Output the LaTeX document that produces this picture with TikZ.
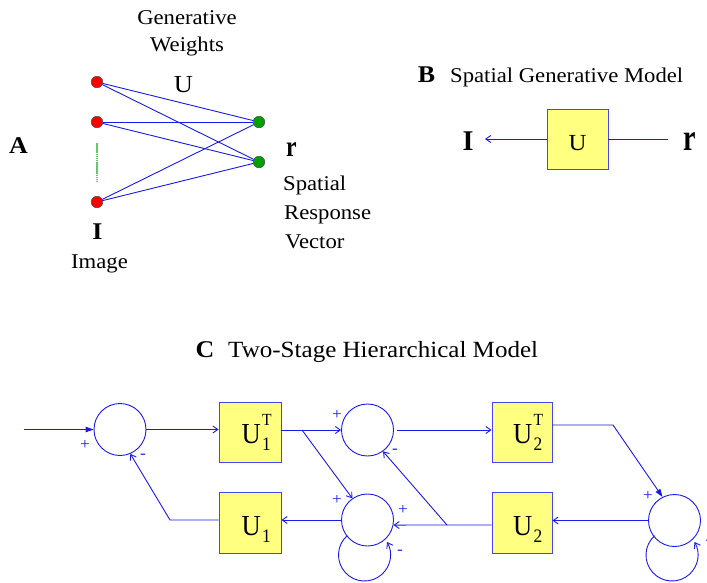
\documentclass[tikz,border=0pt]{standalone}
\usepackage{fontspec}
\setmainfont{Liberation Serif}[FakeStretch=1.08]
\usepackage{graphicx}
\usetikzlibrary{arrows.meta}
\definecolor{wire}{RGB}{25,25,235}
\definecolor{boxfill}{RGB}{255,255,128}
\definecolor{boxedge}{RGB}{70,70,245}
\definecolor{dotred}{RGB}{250,0,0}
\definecolor{dotgreen}{RGB}{0,160,0}
\definecolor{gapgreen}{RGB}{110,195,110}
\newcommand\fsz[1]{\fontsize{#1}{#1}\selectfont}
% weight matrix label: U with subscript #1 and optional superscript #2
\newcommand\wlab[2]{\scalebox{0.85}[1]{\fsz{29}U\kern1.5pt\rlap{\raisebox{18pt}{\fsz{17}#2}}\raisebox{-7pt}{\fsz{19}#1}}}

\begin{document}
\begin{tikzpicture}[x=1pt,y=1pt,
  wire/.style={draw=wire, line width=0.9pt},
  opentip/.style={-{Straight Barb[length=5pt,width=7pt]}},
  filltip/.style={-{Triangle[length=8pt,width=5.5pt]}},
  unit/.style={circle, draw=black!70, line width=0.5pt, minimum size=11.5pt, inner sep=0pt},
  inunit/.style={unit, fill=dotred},
  outunit/.style={unit, fill=dotgreen},
  weightbox/.style={draw=boxedge, fill=boxfill, line width=0.9pt, inner sep=0pt,
                    minimum width=61pt, minimum height=60pt},
  sumnode/.style={circle, draw=wire, line width=0.9pt, minimum size=52pt, inner sep=0pt},
  txt/.style={font=\fsz{21}, inner sep=0pt},
  panel/.style={font=\fsz{24}\bfseries, inner sep=0pt},
  sign/.style={font=\fsz{16}, text=wire, inner sep=0pt},
  boxlab/.style={inner sep=0pt, anchor=base west},
]
\clip (0,0) rectangle (707,-582);
\useasboundingbox (0,0) rectangle (707,-582);

% ---------------- A: generative weights between image and response units
\node[panel, anchor=base] (labA) at (18.5,-153) {A};
\node[txt, anchor=base] (gen) at (187,-24) {Generative};
\node[txt, anchor=base] (wts) at (187,-51) {Weights};
\node[anchor=base, inner sep=0pt, font=\fsz{24.5}] (uA) at (183.5,-92) {U};

\node[inunit] (i1) at (97,-82) {};
\node[inunit] (i2) at (97,-122) {};
\node[inunit] (i3) at (97,-202) {};
\node[outunit] (o1) at (259,-122) {};
\node[outunit] (o2) at (259,-162) {};

\coordinate (gapT) at (97,-143);
\coordinate (gapB) at (97,-181);
\draw[gapgreen, line width=1.5pt, dash pattern=on 1.6pt off 0.5pt] (gapT) -- (gapB);

\foreach \a in {i1,i2,i3}
  \foreach \b in {o1,o2}
    \draw[wire] (\a) -- (\b);

\node[anchor=base, inner sep=0pt, font=\fsz{24}\bfseries] (IA) at (97.5,-239) {I};
\node[txt, anchor=base] (img) at (99.5,-268) {Image};
\node[anchor=base, inner sep=0pt, font=\fsz{22}\bfseries] (rA) at (291.5,-156) {\scalebox{1}[1.33]{r}};
\node[txt, anchor=base west] (sp) at (283,-190) {Spatial};
\node[txt, anchor=base west] (rs) at (284,-219) {Response};
\node[txt, anchor=base west] (vc) at (285,-248) {Vector};

% ---------------- B: spatial generative model
\node[panel, anchor=base] (labB) at (426.5,-82) {B};
\node[txt, anchor=base west] (titB) at (450,-82) {Spatial Generative Model};
\node[weightbox] (wB) at (577.5,-139) {};
\node[anchor=base, inner sep=0pt, font=\fsz{23}] (uB) at (577.5,-150) {U};
\node[anchor=base, inner sep=0pt, font=\fsz{26}\bfseries] (IB) at (468,-150) {\scalebox{1}[1.1]{I}};
\node[anchor=base, inner sep=0pt, font=\fsz{26}\bfseries] (rB) at (689.5,-150) {\scalebox{1}[1.45]{r}};
\coordinate (imgEnd) at (485,-139);
\coordinate (rEnd) at (668,-139);
\draw[wire, opentip] (wB.west) -- (imgEnd);
\draw[wire] (wB.east) -- (rEnd);

% ---------------- C: two-stage hierarchical model
\node[panel, anchor=base] (labC) at (205,-357) {C};
\node[font=\fsz{23.2}, inner sep=0pt, anchor=base west] (titC) at (228,-357) {Two-Stage Hierarchical Model};

\node[sumnode] (s1) at (120,-429.5) {};
\node[sumnode] (s2) at (367.5,-430) {};
\node[sumnode] (s3) at (367.5,-520) {};
\node[sumnode] (s4) at (674.5,-520.5) {};

\node[weightbox, minimum width=62pt] (b1t) at (250,-432) {};
\node[weightbox, minimum width=62pt, minimum height=61pt] (b1) at (250,-522.5) {};
\node[weightbox, minimum width=60pt] (b2t) at (522,-432) {};
\node[weightbox, minimum width=60pt, minimum height=61pt] (b2) at (522,-522.5) {};

\node[boxlab] (l1t) at (241.5,-443) {\wlab{1}{T}};
\node[boxlab] (l1) at (241.5,-535) {\wlab{1}{}};
\node[boxlab] (l2t) at (513,-443) {\wlab{2}{T}};
\node[boxlab] (l2) at (513,-535) {\wlab{2}{}};

\coordinate (inp) at (24,-429.5);
\coordinate (br1) at (302,-430);
\coordinate (k1) at (613,-425);
\coordinate (k2) at (170,-520);
\coordinate (br2) at (447,-525);

% forward path
\draw[wire, filltip] (inp) -- (s1.west);
\draw[wire, opentip] (s1.east) -- (s1.east -| b1t.west);
\draw[wire, opentip] (s2.west -| b1t.east) -- (s2.west);
\draw[wire, opentip] (br1) -- (s3.125);
\draw[wire, opentip] ([xshift=3.5pt]s2.east) -- (s2.east -| b2t.west);
\draw[wire, filltip] (b2t.east |- k1) -- (k1) -- (s4.117);

% feedback path
\draw[wire, opentip] (s4.west) -- (s4.west -| b2.east);
\draw[wire, opentip] (b2.west |- br2) -- (s3.-11);
\draw[wire, opentip] (br2) -- (s2.-54);
\draw[wire, opentip] (s3.west) -- (s3.west -| b1.east);
\draw[wire, opentip] (b1.west |- k2) -- (k2) -- (s1.-67);

% self-inhibition loops
\draw[wire, opentip] ([shift={(-3,-35)}]s3.center) ++(132:26) arc[start angle=132, end angle=390, radius=26];
\draw[wire, opentip] ([shift={(-2.5,-34.5)}]s4.center) ++(132:26) arc[start angle=132, end angle=390, radius=26];

% signs
\node[sign] (p1) at (85,-445) {+};
\node[sign] (m1) at (143,-456) {-};
\node[sign] (p2) at (337,-415) {+};
\node[sign] (m2) at (395,-451) {-};
\node[sign] (p3) at (337,-500) {+};
\node[sign] (p4) at (403,-510) {+};
\node[sign] (m3) at (400,-552) {-};
\node[sign] (p5) at (648,-496) {+};
\node[sign] (m4) at (708.5,-542) {-};
\end{tikzpicture}
\end{document}
